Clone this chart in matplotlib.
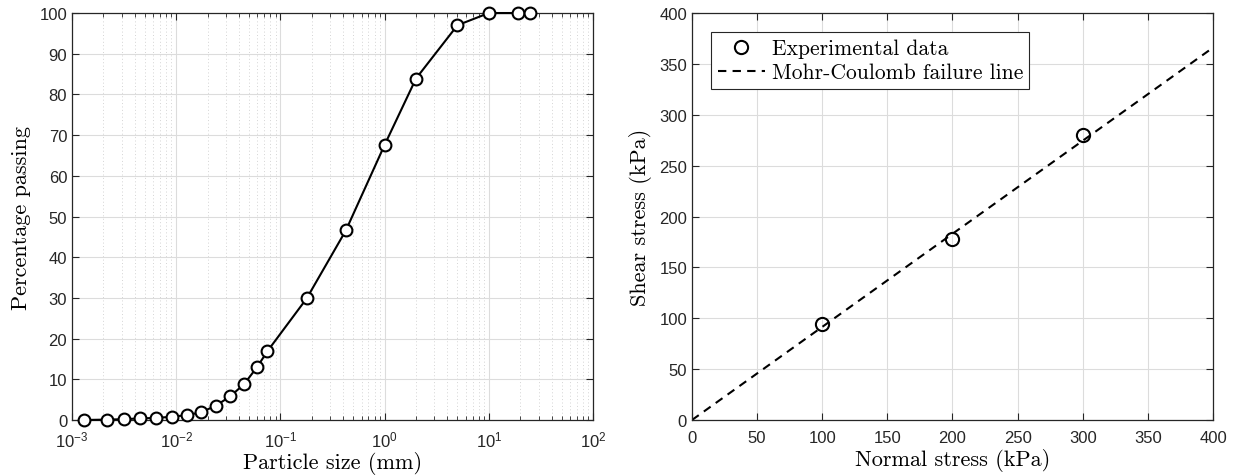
import numpy as np
import matplotlib
matplotlib.use("Agg")
import matplotlib.pyplot as plt
from matplotlib.ticker import LogLocator, MultipleLocator, NullFormatter

plt.rcParams['font.family'] = ['Liberation Sans', 'DejaVu Sans']
plt.rcParams['mathtext.default'] = 'regular'
plt.rcParams['axes.unicode_minus'] = False

# grain size distribution
particle_size = [0.00129, 0.00219, 0.00316, 0.00451, 0.00637, 0.00908, 0.0127,
                 0.0173, 0.0240, 0.0329, 0.0448, 0.0601, 0.075, 0.179, 0.425,
                 1.0, 2.0, 5.0, 10.0, 19.0, 25.0]
passing = [0.0, 0.1, 0.2, 0.4, 0.5, 0.8, 1.2, 1.9, 3.5, 5.8, 8.8, 13.1, 16.9,
           29.9, 46.6, 67.6, 83.9, 97.0, 100.0, 100.0, 100.0]

# direct shear results
normal_stress = [100, 200, 300]
shear_stress = [94, 178, 280]
fit_normal = [0, 400]
fit_shear = [0, 366]

AX_COLOR = '#262626'
GRID_COLOR = '#dcdcdc'
serif = 'cmr10'

fig = plt.figure(figsize=(12.35, 4.77), dpi=100)
ax1 = fig.add_axes([0.0583, 0.1174, 0.4219, 0.8532])
ax2 = fig.add_axes([0.5603, 0.1174, 0.4219, 0.8532])

# --- left: particle size curve
ax1.semilogx(particle_size, passing, '-o', color='black', lw=1.5,
             markersize=8.5, markerfacecolor='white', markeredgewidth=1.5,
             zorder=3, clip_on=False)
ax1.set_xlim(1e-3, 1e2)
ax1.set_ylim(0, 100)
ax1.xaxis.set_major_locator(LogLocator(base=10, numticks=10))
ax1.xaxis.set_minor_locator(LogLocator(base=10, subs=np.arange(2, 10), numticks=20))
ax1.xaxis.set_minor_formatter(NullFormatter())
ax1.yaxis.set_major_locator(MultipleLocator(10))
ax1.grid(True, which='major', color=GRID_COLOR, lw=0.8)
ax1.grid(True, which='minor', axis='x', color='#d4d4d4', lw=0.7, ls=(0, (1, 2.5)))
ax1.set_xlabel('Particle size (mm)', fontfamily=serif, fontsize=16, labelpad=1)
ax1.set_ylabel('Percentage passing', fontfamily=serif, fontsize=16, labelpad=6)
ax1.tick_params(axis='x', which='major', pad=7)

# --- right: Mohr-Coulomb envelope
ax2.plot(normal_stress, shear_stress, 'o', color='black', markersize=9.5,
         markerfacecolor='none', markeredgewidth=1.5, label='Experimental data',
         zorder=3)
ax2.plot(fit_normal, fit_shear, '--', color='black', lw=1.5,
         dashes=(4, 3), label='Mohr-Coulomb failure line', zorder=2)
ax2.set_xlim(0, 400)
ax2.set_ylim(0, 400)
ax2.xaxis.set_major_locator(MultipleLocator(50))
ax2.yaxis.set_major_locator(MultipleLocator(50))
ax2.grid(True, color=GRID_COLOR, lw=0.8)
ax2.set_xlabel('Normal stress (kPa)', fontfamily=serif, fontsize=16, labelpad=2)
ax2.set_ylabel('Shear stress (kPa)', fontfamily=serif, fontsize=16, labelpad=5)
ax2.tick_params(axis='x', which='major', pad=7)
leg = ax2.legend(loc='upper left', prop={'family': serif, 'size': 15.5},
                 fancybox=False, framealpha=1, edgecolor=AX_COLOR,
                 borderaxespad=0.9, handlelength=2.2, handletextpad=0.3,
                 borderpad=0.3, labelspacing=0.2)
leg.get_frame().set_linewidth(0.8)

for ax in (ax1, ax2):
    ax.set_axisbelow(True)
    for sp in ax.spines.values():
        sp.set_color(AX_COLOR)
        sp.set_linewidth(0.9)
    ax.tick_params(which='both', direction='in', top=True, right=True,
                   colors=AX_COLOR, labelcolor=AX_COLOR, labelsize=12)
    ax.tick_params(which='major', length=5, width=0.8)
    ax.tick_params(which='minor', length=3, width=0.6)

fig.savefig('out.png', dpi=100, facecolor='white')
